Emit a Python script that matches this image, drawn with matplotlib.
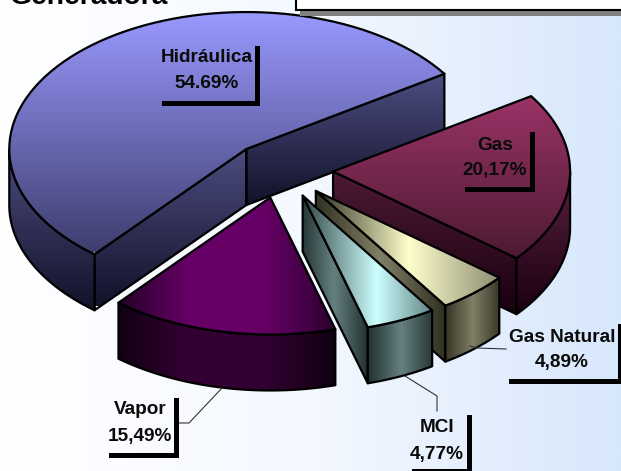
import numpy as np
import matplotlib
matplotlib.use('Agg')
import matplotlib.pyplot as plt
from matplotlib.colors import LinearSegmentedColormap
from matplotlib.patches import PathPatch, Rectangle
from matplotlib.path import Path

plt.rcParams['font.family'] = ['Liberation Sans', 'DejaVu Sans']

# slices in drawing order around the pie, starting from the right edge of Hidraulica
names = ['Hidráulica', 'Vapor', 'MCI', 'Gas Natural', 'Gas']
shares = [54.69, 15.49, 4.77, 4.89, 20.17]
share_labels = ['54.69%', '15,49%', '4,77%', '4,89%', '20,17%']
title_text = 'Generadora'

# pie geometry in pixels
CX, CY = 281, 170
RX, RY = 237, 137
DEPTH = 56
EX, EY = 0.22, 0.205
START = 33.3


def gradient(points, colors, direction, box, zorder):
    # fill a closed outline with a vertical or horizontal gradient
    path = Path(np.vstack([points, points[0]]), closed=True)
    patch = PathPatch(path, facecolor='none', edgecolor='black', lw=1.6, zorder=zorder + 0.1, joinstyle='round')
    ax.add_patch(patch)
    cmap = LinearSegmentedColormap.from_list('g', colors)
    ramp = np.linspace(0, 1, 256)
    ramp = ramp.reshape(-1, 1) if direction == 'v' else ramp.reshape(1, -1)
    img = ax.imshow(ramp, cmap=cmap, extent=(box[0], box[1], box[3], box[2]), aspect='auto',
                    interpolation='bilinear', zorder=zorder, vmin=0, vmax=1)
    img.set_clip_path(patch)


def arc(cx, cy, a0, a1, n=80):
    t = np.radians(np.linspace(a0, a1, n))
    return np.column_stack([cx + RX * np.cos(t), cy - RY * np.sin(t)])


def down(points):
    return points + np.array([0, DEPTH])


def slice_faces(i, a0, a1, top_cols, top_dir, top_box, outer_cols, outer_dir, outer_box, faces):
    # faces: list of radial side walls that can be seen
    mid = np.radians((a0 + a1) / 2)
    ax0 = CX + EX * RX * np.cos(mid)
    ay0 = CY - EY * RY * np.sin(mid)
    apex = np.array([[ax0, ay0]])
    z = 10 + i * 10
    for ang, cols, fdir, fbox in faces:
        rim = arc(ax0, ay0, ang, ang, 1)
        wall = np.vstack([apex, rim, down(rim), down(apex)])
        gradient(wall, cols, fdir, fbox, z)
    # only the front half of the rim shows
    lo = max(a0, 180)
    hi = min(a1, 360)
    if hi > lo:
        rim = arc(ax0, ay0, lo, hi)
        gradient(np.vstack([rim, down(rim)[::-1]]), outer_cols, outer_dir, outer_box, z + 1)
    top = np.vstack([apex, arc(ax0, ay0, a0, a1)])
    gradient(top, top_cols, top_dir, top_box, z + 2)


fig = plt.figure(figsize=(6.21, 4.71), dpi=100)
ax = fig.add_axes([0, 0, 1, 1])

# background
bg = LinearSegmentedColormap.from_list('bg', ['#FFFFFF', '#F4F8FF', '#D7E7FC'])
ax.imshow(np.linspace(0, 1, 256).reshape(1, -1), cmap=bg, extent=(0, 621, 471, 0), aspect='auto', zorder=0)

# slice angles come from the shares
edges = START + np.cumsum([0] + shares) * 3.6

blue_top = ['#9999FF', '#3E3E6E']
blue_side = ['#4C4C80', '#12122A']
red_top = ['#993366', '#4D1A33']
red_side = ['#4D1A33', '#1A0010']
purple = ['#1E001E', '#660066', '#660066', '#2A002A']
purple_s = ['#0E000E', '#330033', '#330033', '#0E000E']
cream = ['#2E2E20', '#FFFFCC', '#8A8A70']
cream_s = ['#2E2E20', '#808066', '#2E2E20']
cyan = [(0, '#2A3A3A'), (0.57, '#CCFFFF'), (1, '#5A7A7A')]
cyan_s = ['#1E2C2C', '#668080', '#1E2C2C']

# back to front: Hidraulica, Gas, Gas Natural, MCI, Vapor
slice_faces(0, edges[0], edges[1], blue_top, 'v', (0, 621, 12, 252), blue_side, 'v', (0, 621, 150, 309),
            [(edges[0], blue_side, 'v', (0, 621, 75, 204)), (edges[1], blue_side, 'v', (0, 621, 149, 306))])
slice_faces(1, edges[4], edges[5], red_top, 'v', (0, 621, 97, 257), ['#5A2040', '#1A0010'], 'v', (0, 621, 172, 313),
            [(edges[4], red_side, 'v', (0, 621, 172, 313))])
slice_faces(2, edges[3], edges[4], cream, 'h', (315, 503, 0, 471), cream_s, 'h', (443, 503, 0, 471),
            [(edges[3], cream_s, 'h', (313, 447, 0, 471))])
slice_faces(3, edges[2], edges[3], cyan, 'h', (298, 437, 0, 471), cyan_s, 'h', (366, 437, 0, 471),
            [(edges[2], cyan_s, 'h', (298, 370, 0, 471))])
slice_faces(4, edges[1], edges[2], purple, 'h', (112, 340, 0, 471), purple_s, 'h', (112, 340, 0, 471), [])

# title clipped by the top of the picture
ax.text(10, 4, title_text, fontsize=20.3, fontweight='bold', color='black', ha='left', va='baseline', zorder=70)

# empty box at top right
ax.add_patch(Rectangle((300, 5), 330, 10.5, facecolor='#808080', edgecolor='none', zorder=70))
ax.add_patch(Rectangle((296, -5), 330, 15, facecolor='white', edgecolor='black', lw=1.5, zorder=71))

# labels with leader lines: centre x, y first line, y second line, box corners
label_pos = {
    'Hidráulica': (207, 58, 84, 162, 46, 260, 106),
    'Gas': (495, 145, 170, 465, 132, 535, 192),
    'Gas Natural': (562, 337, 362, 509, 324, 623, 384),
    'MCI': (437, 428, 454, 412, 415, 472, 474),
    'Vapor': (140, 409, 436, 109, 398, 179, 458),
}
leaders = [([179, 189, 222], [423, 423, 388]),
           ([506, 477, 470], [349, 348, 346]),
           ([437, 437, 405], [411, 396, 376])]
for xs, ys in leaders:
    ax.plot(xs, ys, color='#333333', lw=0.8, zorder=60)

for name, pct in zip(names, share_labels):
    x, y1, y2, x0, y0, x1, y3 = label_pos[name]
    ax.text(x, y1, name, fontsize=13.7, fontweight='bold', ha='center', va='center', color='#0A0A0A', zorder=80)
    ax.text(x, y2, pct, fontsize=13.7, fontweight='bold', ha='center', va='center', color='#0A0A0A', zorder=80)
    ax.add_patch(Rectangle((x1 - 5, y0), 5, y3 - y0, facecolor='black', edgecolor='none', zorder=79))
    ax.add_patch(Rectangle((x0, y3 - 5), x1 - x0, 5, facecolor='black', edgecolor='none', zorder=79))

ax.set_xlim(0, 621)
ax.set_ylim(471, 0)
ax.axis('off')
fig.savefig('out.png', dpi=100)
